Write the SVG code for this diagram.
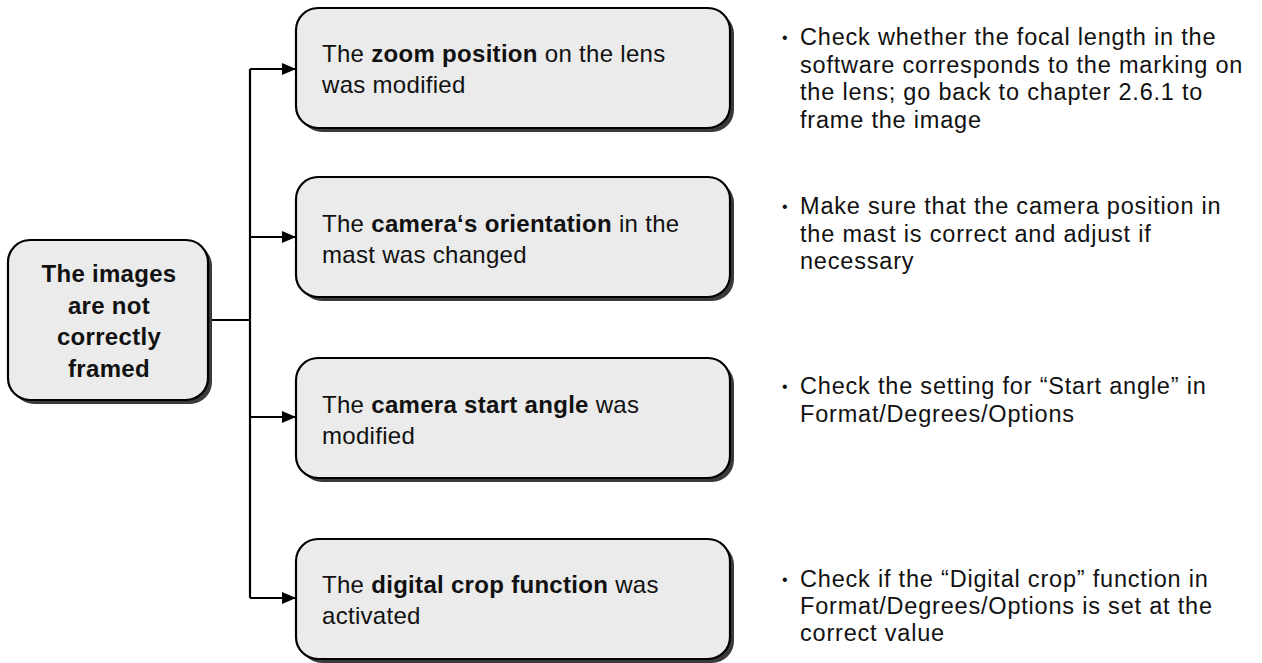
<svg xmlns="http://www.w3.org/2000/svg" width="1262" height="663" viewBox="0 0 1262 663">
<style>
.box{fill:#ebebeb;stroke:#000;stroke-width:2.2}
.sh{fill:#3a3a3a}
.t{font-family:"Liberation Sans",Arial,sans-serif;font-size:24px;letter-spacing:0.3px;fill:#111}
.n{font-size:23.5px;letter-spacing:0.8px}
.b{font-weight:bold}
.c{fill:none;stroke:#000;stroke-width:2.2}
.d{font-size:16px}
</style>
<defs>
<marker id="ar" viewBox="0 0 14 12" refX="14" refY="6" markerWidth="14" markerHeight="12" markerUnits="userSpaceOnUse" orient="auto">
<path d="M0,0 L14,6 L0,12 Z" fill="#000"/>
</marker>
</defs>
<rect width="1262" height="663" fill="#fff"/>
<g id="connectors">
<path class="c" d="M208,320 H250"/>
<path class="c" d="M250,69 V598"/>
<path class="c" d="M250,69 H296" marker-end="url(#ar)"/>
<path class="c" d="M250,237 H296" marker-end="url(#ar)"/>
<path class="c" d="M250,417 H296" marker-end="url(#ar)"/>
<path class="c" d="M250,598 H296" marker-end="url(#ar)"/>
</g>
<g id="root">
<rect class="sh" x="12" y="244" width="200" height="160" rx="22"/>
<rect class="box" x="8" y="240" width="200" height="160" rx="22"/>
<text class="t b" text-anchor="middle" font-size="24" letter-spacing="0"><tspan x="109" y="282">The images</tspan><tspan x="109" y="313.5">are not</tspan><tspan x="109" y="345">correctly</tspan><tspan x="109" y="376.5">framed</tspan></text>
</g>
<g id="n1">
<rect class="sh" x="300" y="12" width="434" height="120" rx="22"/>
<rect class="box" x="296" y="8" width="434" height="120" rx="22"/>
<text class="t"><tspan x="322" y="62">The <tspan class="b">zoom position</tspan> on the lens</tspan><tspan x="322" y="93">was modified</tspan></text>
</g>
<g id="n2">
<rect class="sh" x="300" y="181" width="434" height="120" rx="22"/>
<rect class="box" x="296" y="177" width="434" height="120" rx="22"/>
<text class="t"><tspan x="322" y="232">The <tspan class="b">camera‘s orientation</tspan> in the</tspan><tspan x="322" y="263">mast was changed</tspan></text>
</g>
<g id="n3">
<rect class="sh" x="300" y="362" width="434" height="120" rx="22"/>
<rect class="box" x="296" y="358" width="434" height="120" rx="22"/>
<text class="t"><tspan x="322" y="413">The <tspan class="b">camera start angle</tspan> was</tspan><tspan x="322" y="444">modified</tspan></text>
</g>
<g id="n4">
<rect class="sh" x="300" y="543" width="434" height="120" rx="22"/>
<rect class="box" x="296" y="539" width="434" height="120" rx="22"/>
<text class="t"><tspan x="322" y="593">The <tspan class="b">digital crop function</tspan> was</tspan><tspan x="322" y="624">activated</tspan></text>
</g>
<g id="notes">
<text class="t n"><tspan class="d" x="782" y="43">•</tspan><tspan x="800" y="45">Check whether the focal length in the</tspan><tspan x="800" y="72.5">software corresponds to the marking on</tspan><tspan x="800" y="100">the lens; go back to chapter 2.6.1 to</tspan><tspan x="800" y="127.5">frame the image</tspan></text>
<text class="t n"><tspan class="d" x="782" y="212">•</tspan><tspan x="800" y="214">Make sure that the camera position in</tspan><tspan x="800" y="241.5">the mast is correct and adjust if</tspan><tspan x="800" y="269">necessary</tspan></text>
<text class="t n"><tspan class="d" x="782" y="392">•</tspan><tspan x="800" y="394">Check the setting for “Start angle” in</tspan><tspan x="800" y="421.5">Format/Degrees/Options</tspan></text>
<text class="t n"><tspan class="d" x="782" y="585">•</tspan><tspan x="800" y="587">Check if the “Digital crop” function in</tspan><tspan x="800" y="614">Format/Degrees/Options is set at the</tspan><tspan x="800" y="641">correct value</tspan></text>
</g>
</svg>
